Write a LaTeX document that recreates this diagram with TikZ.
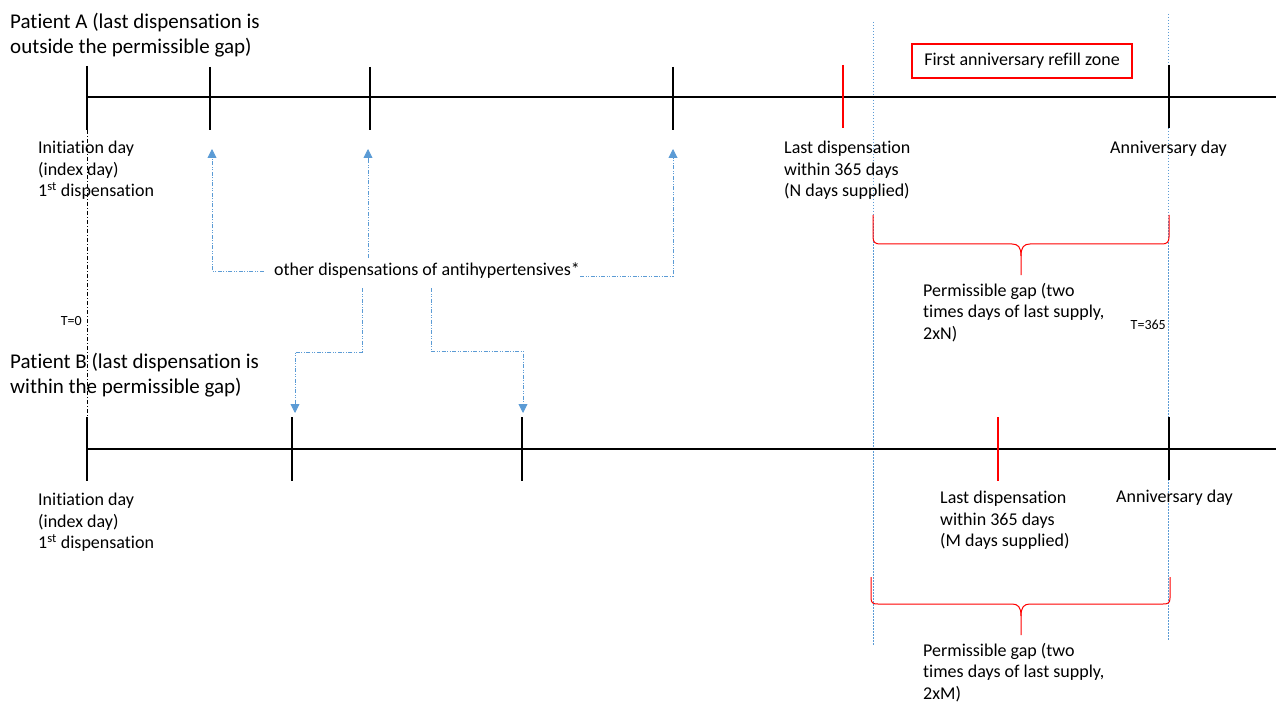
\documentclass[tikz,border=0pt]{standalone}
\usepackage{fontspec}
\setmainfont{Carlito}[Ligatures=NoCommon]
\usetikzlibrary{arrows.meta, positioning, calc}
\definecolor{linkblue}{RGB}{91, 155, 213}
\definecolor{markred}{RGB}{255, 0, 0}
\tikzstyle{timeline} = [line width=2pt, black]
\tikzstyle{tickmark} = [line width=2pt, black]
\tikzstyle{redmark} = [line width=2pt, markred]
\tikzstyle{guide} = [line width=0.9pt, linkblue, dash pattern=on 1.5pt off 1.5pt]
\tikzstyle{zeroline} = [line width=0.9pt, black, dash pattern=on 4pt off 2pt on 1pt off 2pt]
\tikzstyle{link} = [line width=0.9pt, linkblue, dash pattern=on 4pt off 1.5pt on 1pt off 1.5pt on 1pt off 1.5pt, -{Triangle[length=9pt,width=9pt]}]
\tikzstyle{brace} = [line width=1pt, markred]
\tikzstyle{note} = [anchor=north west, inner sep=0pt, align=left, font=\fontsize{18}{21.5}\selectfont]
\tikzstyle{title} = [anchor=north west, inner sep=0pt, align=left, font=\fontsize{21}{25}\selectfont]
\tikzstyle{tlabel} = [anchor=east, inner sep=0pt, font=\fontsize{14}{16}\selectfont]

\begin{document}
\begin{tikzpicture}[x=1pt, y=-1pt]
    \useasboundingbox (0,0) rectangle (1276,703);

    % Guides of the refill zone
    \draw[guide] (873,22) -- (873,645);
    \draw[guide] (1168,14) -- (1168,640);
    \draw[zeroline] (87,130) -- (87,417);

    % Patient A
    \node[title] (titleA) at (10,13) {Patient A (last dispensation is\\outside the permissible gap)};
    \draw[timeline] (87,97) -- (1276,97);
    \draw[tickmark] (87,66) -- (87,130);
    \draw[tickmark] (210,67) -- (210,130);
    \draw[tickmark] (370,67) -- (370,130);
    \draw[tickmark] (673,67) -- (673,130);
    \draw[redmark] (843,65) -- (843,128);
    \draw[tickmark] (1169,65) -- (1169,128);

    \node[note] (initA) at (38,141) {Initiation day\\(index day)\\1\textsuperscript{st} dispensation};
    \node[note] (lastA) at (784,141) {Last dispensation\\within 365 days\\(N days supplied)};
    \node[note] (annivA) at (1110,141) {Anniversary day};
    \node[draw=markred, line width=2pt, minimum width=220pt, minimum height=34pt, inner sep=0pt,
          font=\fontsize{18}{21.5}\selectfont] (zone) at (1022,61) {First anniversary refill zone};

    % Permissible gap of patient A
    \draw[brace] (873,215) -- (873,237) .. controls (873,242) and (875,244) .. (880,244) -- (1012,244)
        .. controls (1018,244) and (1021,247) .. (1021,256) -- (1021,275);
    \draw[brace] (1169,215) -- (1169,237) .. controls (1169,242) and (1167,244) .. (1162,244) -- (1030,244)
        .. controls (1024,244) and (1021,247) .. (1021,256);
    \node[note] (gapA) at (923,283) {Permissible gap (two\\times days of last supply,\\2xN)};

    \node[tlabel] (tzero) at (82,321) {T=0};
    \node[tlabel] (tend) at (1166,325) {T=365};

    % Patient B
    \node[title] (titleB) at (10,353) {Patient B (last dispensation is\\within the permissible gap)};
    \draw[timeline] (87,449) -- (1276,449);
    \draw[tickmark] (87,417) -- (87,481);
    \draw[tickmark] (292,417) -- (292,481);
    \draw[tickmark] (522,417) -- (522,481);
    \draw[redmark] (998,417) -- (998,481);
    \draw[tickmark] (1169,417) -- (1169,480);

    \node[note] (initB) at (38,493) {Initiation day\\(index day)\\1\textsuperscript{st} dispensation};
    \node[note] (lastB) at (940,491) {Last dispensation\\within 365 days\\(M days supplied)};
    \node[note] (annivB) at (1116,490) {Anniversary day};

    % Permissible gap of patient B
    \draw[brace] (871,577) -- (871,598) .. controls (871,603) and (873,604) .. (878,604) -- (1012,604)
        .. controls (1018,604) and (1021,607) .. (1021,616) -- (1021,635);
    \draw[brace] (1170,577) -- (1170,598) .. controls (1170,603) and (1168,604) .. (1163,604) -- (1030,604)
        .. controls (1024,604) and (1021,607) .. (1021,616);
    \node[note] (gapB) at (923,643) {Permissible gap (two\\times days of last supply,\\2xM)};

    % Other dispensations
    \node[inner sep=0pt, font=\fontsize{18}{21.5}\selectfont] (other) at (427,271) {other dispensations of antihypertensives*};
    \coordinate (up1) at (212,149);
    \coordinate (up2) at (368,149);
    \coordinate (up3) at (673,149);
    \coordinate (bend1) at (295,352);
    \coordinate (down1) at (295,413);
    \coordinate (bend2) at (523,351);
    \coordinate (down2) at (523,413);

    \draw[link] ([xshift=-10pt]other.west) -| (up1);
    \draw[link] ([yshift=5pt]other.north -| up2) -- (up2);
    \draw[link] ([yshift=-5pt]other.east) -| (up3);
    \draw[link] ([shift={(-65pt,-9pt)}]other.south) |- (bend1) -- (down1);
    \draw[link] ([shift={(4pt,-9pt)}]other.south) |- (bend2) -- (down2);
\end{tikzpicture}
\end{document}
